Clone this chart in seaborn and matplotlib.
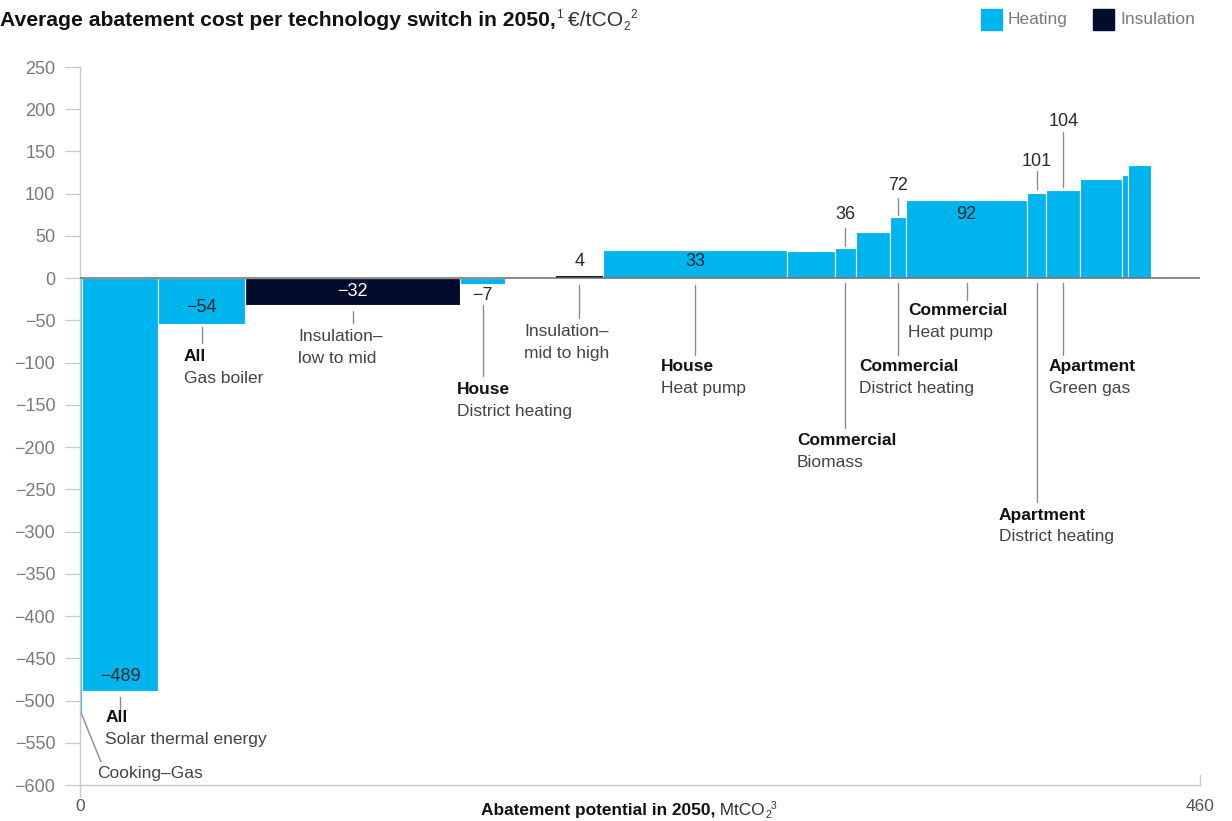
import numpy as np
import pandas as pd
import matplotlib
matplotlib.use("Agg")
import matplotlib.pyplot as plt
from matplotlib.patches import Rectangle
import seaborn as sns

# Abatement potential in 2050 for each technology switch (MtCO2), ordered by cost
widths = [1.0, 31.2, 35.7, 88.3, 18.3, 20.7, 19.7, 75.6, 19.7, 8.4,
          14.2, 6.4, 49.9, 7.8, 14.0, 17.0, 2.5, 9.6]
# Average abatement cost in 2050 (€/tCO2)
costs = [-515, -489, -54, -32, -7, -1, 4, 33, 32, 36,
         55, 72, 92, 101, 104, 118, 122, 134]
groups = ["Heating", "Heating", "Heating", "Insulation", "Heating", "Insulation",
          "Insulation", "Heating", "Heating", "Heating", "Heating", "Heating",
          "Heating", "Heating", "Heating", "Heating", "Heating", "Heating"]

# Bars that carry a value label and a name
labelled = [1, 2, 3, 4, 6, 7, 9, 11, 12, 13, 14]
names_bold = ["All", "All", "", "House", "", "House", "Commercial",
              "Commercial", "Commercial", "Apartment", "Apartment"]
names_rest = ["Solar thermal energy", "Gas boiler", "Insulation–\nlow to mid",
              "District heating", "Insulation–\nmid to high", "Heat pump", "Biomass",
              "District heating", "Heat pump", "District heating", "Green gas"]
y_ticks = list(range(-600, 251, 50))

palette = {"Heating": "#00B5EE", "Insulation": "#030B2C"}

# Label layout: value text y, upper leader, lower leader, name x, name y (data units)
layout = [
    dict(vy=-472, up=None, low=(-496, -512), nx=10.3, ny=-520.6),
    dict(vy=-35.3, up=None, low=(-57.6, -76.6), nx=42.7, ny=-92.4),
    dict(vy=-15.2, up=None, low=(-38.8, -53.0), nx=89.5, ny=-69.6),
    dict(vy=-20.8, up=None, low=(-31.7, -115.8), nx=154.8, ny=-131.7),
    dict(vy=19.2, up=None, low=(-8, -47.2), nx=182.4, ny=-63.7),
    dict(vy=19.2, up=None, low=(-8, -90.9), nx=238.6, ny=-105.1),
    dict(vy=75.9, up=(59.4, 38.1), low=(-5.7, -177.3), nx=294.5, ny=-192.7),
    dict(vy=110.3, up=(95, 74.8), low=(-5.7, -90.9), nx=320.0, ny=-105.1),
    dict(vy=75.9, up=None, low=(-5.7, -25.8), nx=340.1, ny=-38.8),
    dict(vy=138.7, up=(126.9, 105.6), low=(-5.7, -265), nx=377.4, ny=-280.4),
    dict(vy=186, up=(173, 108), low=(-5.7, -90.9), nx=398.0, ny=-105.1),
]

sns.set_theme(style="white")
plt.rcParams["font.family"] = ["Liberation Sans", "DejaVu Sans"]

W, H = 1232, 821
fig = plt.figure(figsize=(W / 100, H / 100), dpi=100)
ax = fig.add_axes([80 / W, 1 - 785 / H, 1120 / W, (785 - 67) / H])

edges = np.concatenate([[0.0], np.cumsum(widths)])
centers = (edges[:-1] + edges[1:]) / 2
df = pd.DataFrame({"potential": centers, "cost": costs, "measure": groups})

# Variable-width cost curve: one bin per technology switch, height = cost
sns.histplot(data=df, x="potential", weights="cost", hue="measure",
             hue_order=["Heating", "Insulation"], palette=palette,
             bins=[float(e) for e in edges],
             multiple="layer", alpha=1, edgecolor="white", linewidth=0.8,
             legend=False, ax=ax)

ax.set_xlim(0, 460)
ax.set_ylim(-600, 250)
ax.set_xlabel("")
ax.set_ylabel("")

grid_grey = "#c9c9c9"
for side in ["top", "right"]:
    ax.spines[side].set_visible(False)
for side in ["left", "bottom"]:
    ax.spines[side].set_color(grid_grey)
    ax.spines[side].set_linewidth(1)

ax.set_yticks(y_ticks)
ax.tick_params(axis="y", direction="out", length=10.8, width=0.9, color=grid_grey,
               labelcolor="#7a7a7a", labelsize=13, pad=7, left=True)
ax.set_xticks([0, 460], ["0", "460"])
ax.tick_params(axis="x", length=0, labelcolor="#555555", labelsize=12.5, pad=10)
ax.plot([0, 0], [-600, -614], color=grid_grey, lw=1, clip_on=False)
ax.plot([460, 460], [-600, -588], color=grid_grey, lw=1, clip_on=False)

ax.axhline(0, color="#6b6b6b", lw=1.1, zorder=5)

lead = dict(color="#8a8a8a", lw=1, zorder=6, clip_on=False)
line_gap = 26

for k, i in enumerate(labelled):
    L = layout[k]
    cx = centers[i]
    val = costs[i]
    txt = f"−{abs(val)}" if val < 0 else f"{val}"
    vcol = "white" if groups[i] == "Insulation" and val < -10 else "#2a2a2a"
    ax.text(cx, L["vy"], txt, ha="center", va="center", fontsize=13,
            color=vcol, zorder=7)
    if L["up"] is not None:
        ax.plot([cx, cx], L["up"], **lead)
    ax.plot([cx, cx], L["low"], **lead)
    if names_bold[k]:
        ax.text(L["nx"], L["ny"], names_bold[k], ha="left", va="center",
                fontsize=12.5, fontweight="bold", color="#111111", zorder=7)
        ax.text(L["nx"], L["ny"] - line_gap, names_rest[k], ha="left", va="center",
                fontsize=12.5, color="#444444", zorder=7)
    else:
        for j, part in enumerate(names_rest[k].split("\n")):
            ax.text(L["nx"], L["ny"] - j * line_gap, part, ha="left", va="center",
                    fontsize=12.5, color="#444444", zorder=7)

# Cooking–Gas sliver on the far left
ax.plot([centers[0], 8.6], [costs[0], -572.6], **lead)
ax.text(7.0, -586.3, "Cooking–Gas", ha="left", va="center", fontsize=12.5,
        color="#444444", zorder=7)

renderer = fig.canvas.get_renderer()


def text_runs(x_px, base_px, runs):
    x = x_px
    for s, size, weight, dy, color in runs:
        t = fig.text(x / W, 1 - (base_px - dy) / H, s, fontsize=size,
                     fontweight=weight, color=color, ha="left", va="baseline")
        x = t.get_window_extent(renderer).x1


text_runs(0, 26, [
    ("Average abatement cost per technology switch in 2050,", 15.2, "bold", 0, "#111111"),
    ("1", 8.5, "normal", 8, "#333333"),
    (" €/tCO", 15.2, "normal", 0, "#333333"),
    ("2", 8.5, "normal", -4, "#333333"),
    ("2", 8.5, "normal", 8, "#333333"),
])

text_runs(481, 815, [
    ("Abatement potential in 2050,", 12.4, "bold", 0, "#111111"),
    (" MtCO", 12.4, "normal", 0, "#333333"),
    ("2", 7.5, "normal", -3, "#333333"),
    ("3", 7.5, "normal", 6, "#333333"),
])

# Legend
for (x0, label), key in zip([(981, "Heating"), (1093, "Insulation")],
                            ["Heating", "Insulation"]):
    fig.add_artist(Rectangle((x0 / W, 1 - 30 / H), 21 / W, 21 / H,
                             transform=fig.transFigure, color=palette[key]))
    fig.text((x0 + 27) / W, 1 - 19.5 / H, label, fontsize=12.5, color="#7a7a7a",
             ha="left", va="center")

fig.savefig("out.png", dpi=100)
